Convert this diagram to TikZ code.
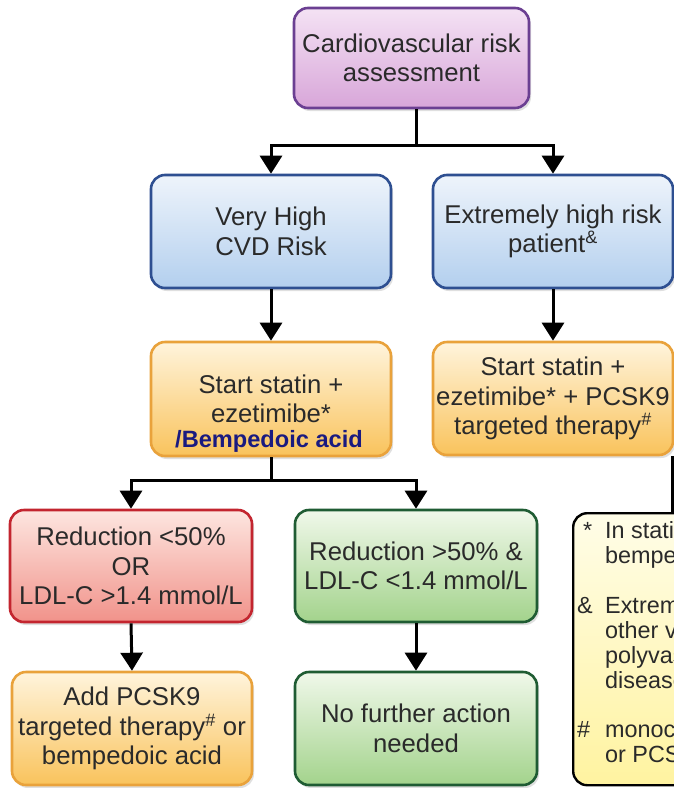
\documentclass[tikz,border=0pt]{standalone}
\usepackage{fontspec}
\setmainfont{Liberation Sans}
\usetikzlibrary{arrows.meta,shadows}
\definecolor{txt}{HTML}{2A2A2A}
\definecolor{purpD}{HTML}{6B3F92}
\definecolor{purpT}{HTML}{F4E2F4}
\definecolor{purpB}{HTML}{D8A6D9}
\definecolor{blueD}{HTML}{2E4F91}
\definecolor{blueT}{HTML}{EEF4FB}
\definecolor{blueB}{HTML}{B3CFEE}
\definecolor{oranD}{HTML}{E9A23B}
\definecolor{oranT}{HTML}{FFF4DC}
\definecolor{oranB}{HTML}{F9C35C}
\definecolor{redD}{HTML}{C3252F}
\definecolor{redT}{HTML}{FDE6E0}
\definecolor{redB}{HTML}{F1928A}
\definecolor{greenD}{HTML}{1F5C33}
\definecolor{greenT}{HTML}{F0F8EA}
\definecolor{greenB}{HTML}{A3D38C}
\definecolor{noteT}{HTML}{FFFDE8}
\definecolor{noteB}{HTML}{FFF3A0}
\definecolor{bemp}{HTML}{1A1A80}
\begin{document}
\begin{tikzpicture}[x=1pt,y=-1pt,
  box/.style={draw, rounded corners=14pt, line width=2.6pt, text=txt, align=center,
    inner sep=0pt, font=\fontsize{25.7}{29.5}\selectfont,
    drop shadow={shadow xshift=2pt, shadow yshift=-3pt, opacity=0.25}},
  purpbox/.style={box, draw=purpD, top color=purpT, bottom color=purpB},
  bluebox/.style={box, draw=blueD, top color=blueT, bottom color=blueB},
  oranbox/.style={box, draw=oranD, top color=oranT, bottom color=oranB},
  redbox/.style={box, draw=redD, top color=redT, bottom color=redB},
  greenbox/.style={box, draw=greenD, top color=greenT, bottom color=greenB},
  notebox/.style={draw=black, rounded corners=14pt, line width=2.4pt, top color=noteT, bottom color=noteB, inner sep=0pt},
  wide/.style={minimum width=240pt, minimum height=113pt},
  conn/.style={draw=black, line width=3pt, line join=miter},
  arr/.style={conn, -{Triangle[width=22pt,length=18pt]}}
]
\useasboundingbox (0,0) rectangle (674,788);
\fill[white] (0,0) rectangle (674,788);
\clip (0,0) rectangle (674,788);

% nodes
\node[purpbox, minimum width=235pt, minimum height=100pt] (card) at (411.5,58) {Cardiovascular risk\\assessment};
\node[bluebox, wide] (vh) at (271,231.5) {Very High\\CVD Risk};
\node[bluebox, wide] (ex) at (553,231.5) {Extremely high risk\\patient\textsuperscript{\&}};
\node[oranbox, wide, minimum height=114pt] (s1) at (271,399) {Start statin +\\ezetimibe*};
\node[text=bemp, font=\bfseries\fontsize{23.6}{28}\selectfont, inner sep=0pt] (bempt) at (269,441) {/Bempedoic acid};
\node[oranbox, wide] (s2) at (553,398.5) {Start statin +\\ezetimibe* + PCSK9\\targeted therapy\textsuperscript{\#}};
\node[redbox, minimum width=242pt, minimum height=112pt] (red) at (131,566) {Reduction {<}50\%\\OR\\LDL-C {>}1.4 mmol/L};
\node[greenbox, minimum width=242pt, minimum height=112pt] (g1) at (416,566) {Reduction {>}50\% \&\\LDL-C {<}1.4 mmol/L};
\node[oranbox, wide] (add) at (132,728.5) {Add PCSK9\\targeted therapy\textsuperscript{\#} or\\bempedoic acid};
\node[greenbox, minimum width=242pt, minimum height=113pt] (nf) at (416,728.5) {No further action\\needed};
\node[notebox, minimum width=150pt, minimum height=272pt, anchor=north west] (note) at (572,512) {};
\node[anchor=north west, inner sep=0pt, text=txt, font=\fontsize{23.4}{24.9}\selectfont] (notetxt) at (577,521)
  {\begin{tabular}{@{}p{28pt}@{}l@{}}
   \hspace{6pt}*&In statin\\
   &bempe\\
   &\\
   \&&Extrem\\
   &other v\\
   &polyvas\\
   &disease\\
   &\\
   \#&monoc\\
   &or PCS
  \end{tabular}};

% connectors
\coordinate (cx) at (416,0);
\coordinate (j1) at (0,145);
\coordinate (j2) at (0,480);
\coordinate (rx) at (672,0);
\draw[conn] (card.south -| cx) -- (j1 -| cx);
\draw[arr] (j1 -| cx) -| (vh.north);
\draw[arr] (j1 -| cx) -| (ex.north);
\draw[arr] (vh.south) -- (s1.north);
\draw[arr] (ex.south) -- (s2.north);
\draw[conn] (s1.south) -- (s1.south |- j2);
\draw[arr] (s1.south |- j2) -| (red.north);
\draw[arr] (s1.south |- j2) -| (g1.north);
\draw[arr] (red.south) -- (add.north);
\draw[arr] (g1.south) -- (nf.north);
\draw[conn] (s2.south -| rx) -- (note.north -| rx);
\end{tikzpicture}
\end{document}
